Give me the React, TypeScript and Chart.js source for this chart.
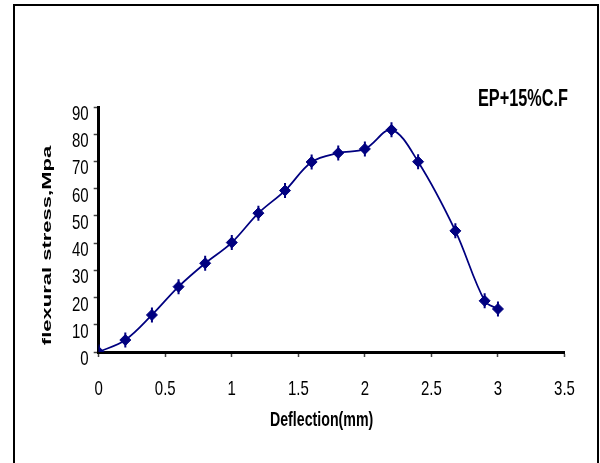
import { useEffect, useRef } from 'react';
import { Chart, registerables } from 'chart.js';

Chart.register(...registerables);

const DEFLECTION = [0, 0.2, 0.4, 0.6, 0.8, 1.0, 1.2, 1.4, 1.6, 1.8, 2.0, 2.2, 2.4, 2.68, 2.9, 3.0];
const STRESS = [0, 4.4, 13.6, 24, 32.6, 40.2, 51, 59.3, 69.8, 73.1, 74.6, 81.6, 69.9, 44.5, 18.8, 15.8];
const X_TICKS = [0, 0.5, 1, 1.5, 2, 2.5, 3, 3.5];
const Y_TICKS = [0, 10, 20, 30, 40, 50, 60, 70, 80, 90];
const X_TITLE = 'Deflection(mm)';
const Y_TITLE = 'flexural stress,Mpa';
const CHART_TITLE = 'EP+15%C.F';

const NAVY = '#000080';
const SANS = '"Liberation Sans", Arial, sans-serif';
const STRETCH = 1.4;

// Draws all texts with the vertical stretch seen in the reference picture.
const textPlugin = {
  id: 'stretchedTexts',
  afterDraw(chart: any) {
    const { ctx, chartArea } = chart;
    const xs = chart.scales.x;
    const ys = chart.scales.y;
    ctx.save();
    ctx.fillStyle = '#000';

    // y tick labels
    ctx.font = `15px ${SANS}`;
    ctx.textAlign = 'right';
    ctx.textBaseline = 'alphabetic';
    Y_TICKS.forEach((v) => {
      const py = ys.getPixelForValue(v);
      ctx.save();
      ctx.translate(chartArea.left - 10, py + 13);
      ctx.scale(1, STRETCH);
      ctx.fillText(String(v), 0, 0);
      ctx.restore();
    });

    // x tick labels
    ctx.textAlign = 'center';
    X_TICKS.forEach((v) => {
      const px = xs.getPixelForValue(v);
      ctx.save();
      ctx.translate(px, chartArea.bottom + 43);
      ctx.scale(1, STRETCH);
      ctx.fillText(String(v), 0, 0);
      ctx.restore();
    });

    // x axis title
    ctx.font = `bold 14.2px ${SANS}`;
    ctx.save();
    ctx.translate((chartArea.left + chartArea.right) / 2 - 10, chartArea.bottom + 74);
    ctx.scale(1, STRETCH);
    ctx.fillText(X_TITLE, 0, 0);
    ctx.restore();

    // chart title (top right)
    ctx.font = `bold 16.3px ${SANS}`;
    ctx.textAlign = 'right';
    ctx.save();
    ctx.translate(chartArea.right + 3.5, chartArea.top - 1);
    ctx.scale(1, 1.43);
    ctx.fillText(CHART_TITLE, 0, 0);
    ctx.restore();

    // y axis title (rotated)
    ctx.save();
    ctx.translate(47.5, (chartArea.top + chartArea.bottom) / 2 + 16);
    ctx.rotate(-Math.PI / 2);
    ctx.scale(1.72, 1);
    ctx.font = `bold 12.8px ${SANS}`;
    ctx.textAlign = 'center';
    ctx.textBaseline = 'middle';
    ctx.fillText(Y_TITLE, 0, 0);
    ctx.restore();

    ctx.restore();
  },
};

export default function App() {
  const ref = useRef<HTMLCanvasElement | null>(null);

  useEffect(() => {
    if (!ref.current) return;
    const points = DEFLECTION.map((x, i) => ({ x, y: STRESS[i] }));
    const chart = new Chart(ref.current, {
      type: 'scatter',
      data: {
        datasets: [
          {
            data: points,
            showLine: true,
            borderColor: NAVY,
            borderWidth: 1.75,
            tension: 0.35,
            pointStyle: 'rectRot',
            pointRadius: 5.5,
            pointBackgroundColor: NAVY,
            pointBorderColor: NAVY,
            pointBorderWidth: 1,
          },
          {
            data: points,
            showLine: false,
            pointStyle: 'line',
            rotation: 90,
            pointRadius: 7.5,
            pointBorderColor: NAVY,
            pointBackgroundColor: NAVY,
            pointBorderWidth: 2,
          } as any,
        ],
      },
      options: {
        responsive: false,
        animation: false,
        events: [],
        layout: { padding: { left: 0, right: 35.5, top: 107, bottom: 0 } },
        plugins: {
          legend: { display: false },
          tooltip: { enabled: false },
          title: { display: false },
        },
        scales: {
          x: {
            type: 'linear',
            min: 0,
            max: 3.5,
            afterBuildTicks: (scale: any) => {
              scale.ticks = X_TICKS.map((v) => ({ value: v }));
            },
            afterFit: (scale: any) => {
              scale.height = 111;
            },
            border: { display: true, color: '#000', width: 3 },
            grid: {
              display: true,
              drawOnChartArea: false,
              drawTicks: true,
              tickLength: 5,
              tickColor: '#444',
              tickWidth: 1.5,
            },
            ticks: { display: false },
          },
          y: {
            type: 'linear',
            min: 0,
            max: 90,
            afterBuildTicks: (scale: any) => {
              scale.ticks = Y_TICKS.map((v) => ({ value: v }));
            },
            afterFit: (scale: any) => {
              scale.width = 98.7;
            },
            border: { display: true, color: '#000', width: 3 },
            grid: {
              display: true,
              drawOnChartArea: false,
              drawTicks: true,
              tickLength: 5,
              tickColor: '#444',
              tickWidth: 1.5,
            },
            ticks: { display: false },
          },
        },
      },
      plugins: [textPlugin],
    });
    return () => chart.destroy();
  }, []);

  return (
    <div style={{ position: 'absolute', left: 0, top: 0, width: 600, height: 463, overflow: 'hidden', background: '#fff' }}>
      <div
        style={{
          position: 'absolute',
          left: 13,
          top: 4,
          width: 586,
          height: 480,
          border: '2px solid #000',
          boxSizing: 'border-box',
        }}
      />
      <canvas ref={ref} width={600} height={463} style={{ position: 'absolute', left: 0, top: 0 }} />
    </div>
  );
}
